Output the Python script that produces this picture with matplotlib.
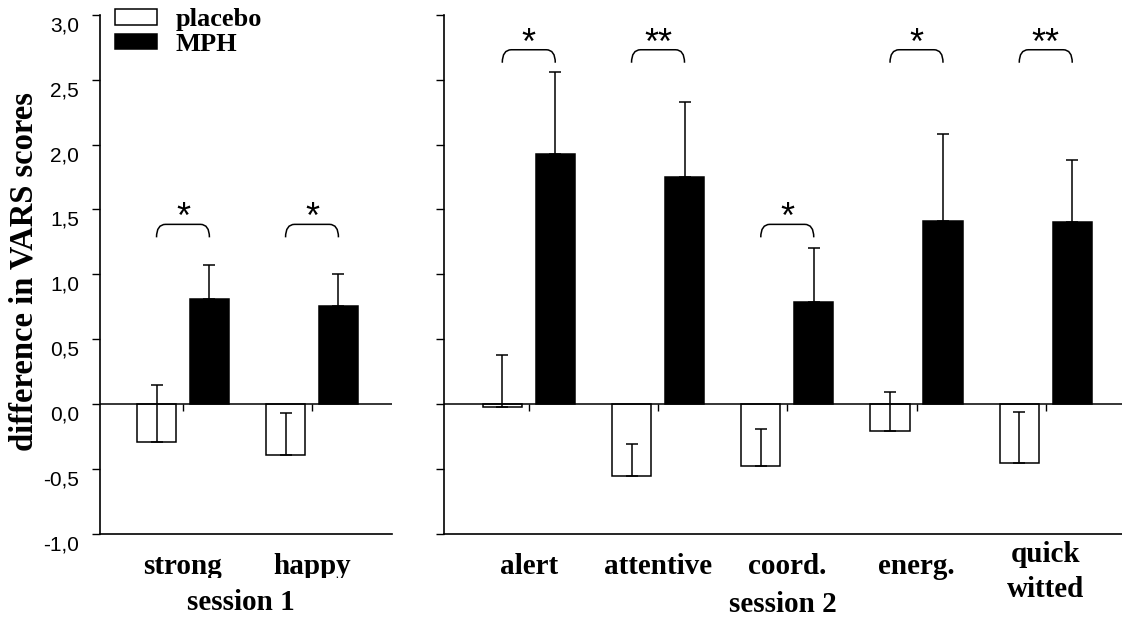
import matplotlib
matplotlib.use("Agg")
import matplotlib.pyplot as plt
import matplotlib.markers as mmarkers
from matplotlib.transforms import Bbox, TransformedBbox, ScaledTranslation, blended_transform_factory
from matplotlib.path import Path
from matplotlib.patches import PathPatch
import numpy as np

plt.rcParams['axes.unicode_minus'] = False

# ---------------- data ----------------
cats1 = ['strong', 'happy']
placebo1 = [-0.29, -0.39]
placebo1_err = [0.44, 0.32]
mph1 = [0.81, 0.76]
mph1_err = [0.26, 0.24]
sig1 = ['*', '*']
sig1_level = [1.385, 1.385]

cats2 = ['alert', 'attentive', 'coord.', 'energ.', 'quick\nwitted']
placebo2 = [-0.02, -0.55, -0.48, -0.21, -0.45]
placebo2_err = [0.40, 0.24, 0.29, 0.30, 0.39]
mph2 = [1.93, 1.75, 0.79, 1.41, 1.40]
mph2_err = [0.63, 0.58, 0.41, 0.67, 0.48]
sig2 = ['*', '**', '*', '*', '**']
sig2_level = [2.73, 2.73, 1.385, 2.73, 2.73]

sessions = ['session 1', 'session 2']
legend_labels = ['placebo', 'MPH']
yticks = [-1.0, -0.5, 0.0, 0.5, 1.0, 1.5, 2.0, 2.5, 3.0]

# ---------------- figure ----------------
W, H = 1122, 617
fig = plt.figure(figsize=(W / 100, H / 100), dpi=100)

def px_axes(x0, x1, ytop, ybot):
    return fig.add_axes([x0 / W, 1 - ybot / H, (x1 - x0) / W, (ybot - ytop) / H])

ax1 = px_axes(100, 392, 14.7, 534)
ax2 = px_axes(444, 1122, 14.7, 534)

serif = dict(family='Liberation Serif', weight='bold')
width = 0.302
off = 0.205
lw = 1.1
label_fs = 21


def bracket(ax, x0, x1, ytop, drop=0.1, dx=0.07):
    verts = [(x0, ytop - drop), (x0, ytop), (x0 + dx, ytop),
             (x1 - dx, ytop), (x1, ytop), (x1, ytop - drop)]
    codes = [Path.MOVETO, Path.CURVE3, Path.CURVE3,
             Path.LINETO, Path.CURVE3, Path.CURVE3]
    ax.add_patch(PathPatch(Path(verts, codes), fill=False, lw=1.1, color='black'))


def panel(ax, cats, pl, pl_err, mp, mp_err, sig, sig_lv, xlim, ytick_labels):
    x = np.arange(len(cats))
    b1 = ax.bar(x - off, pl, width, color='white', edgecolor='black', lw=lw, zorder=2)
    b2 = ax.bar(x + off, mp, width, color='black', edgecolor='black', lw=lw, zorder=2)
    z = np.zeros(len(cats))
    ax.errorbar(x - off, pl, yerr=[z, pl_err], fmt='none', ecolor='black',
                elinewidth=lw, capsize=4.3, capthick=lw, zorder=3)
    ax.errorbar(x + off, mp, yerr=[z, mp_err], fmt='none', ecolor='black',
                elinewidth=lw, capsize=4.3, capthick=lw, zorder=1)
    ax.axhline(0, color='black', lw=lw, zorder=4)
    ax.plot(x, z, ls='none', marker=mmarkers.TICKDOWN, ms=5, mew=1.0,
            color='black', zorder=4, clip_on=False)
    for xi, s, lv in zip(x, sig, sig_lv):
        bracket(ax, xi - off, xi + off, lv)
        ax.text(xi, lv - 0.03, s, ha='center', va='baseline',
                family='Liberation Sans', fontsize=26)
    ax.set_xlim(*xlim)
    ax.set_ylim(-1.0, 3.0)
    ax.set_yticks(yticks)
    ax.set_yticklabels([])
    if ytick_labels:
        tr = ax.get_yaxis_transform() + ScaledTranslation(-21 / 100, -11 / 100,
                                                          fig.dpi_scale_trans)
        for v in yticks:
            ax.text(0, v, f"{v:.1f}".replace('.', ','), transform=tr,
                    ha='right', va='center', family='Liberation Sans', fontsize=15)
    ax.set_xticks([])
    ax.tick_params(axis='y', direction='out', length=6, width=1.0)
    for sp in ['top', 'right']:
        ax.spines[sp].set_visible(False)
    for sp in ['left', 'bottom']:
        ax.spines[sp].set_linewidth(1.2)
    return b1, b2


h1, h2 = panel(ax1, cats1, placebo1, placebo1_err, mph1, mph1_err, sig1, sig1_level,
               (-0.643, 1.620), True)
panel(ax2, cats2, placebo2, placebo2_err, mph2, mph2_err, sig2, sig2_level,
      (-0.656, 4.59), False)

# category labels (clipped at bottom like the reference)
def cat_labels(ax, cats, clip_y):
    tr = blended_transform_factory(ax.transData, fig.transFigure)
    clip = TransformedBbox(Bbox.from_extents(0, clip_y, 1, 1), fig.transFigure)
    for i, c in enumerate(cats):
        if '\n' in c:
            y = 1 - 572 / H
        else:
            y = 1 - 567 / H
        t = fig.text(i, y, c, transform=tr, ha='center', va='center',
                     fontsize=label_fs, linespacing=1.4, **serif)
        t.set_clip_box(clip)
        t.set_clip_on(True)

cat_labels(ax1, cats1, 1 - 578 / H)
cat_labels(ax2, cats2, 1 - 604 / H)

fig.text(241 / W, 1 - 603 / H, sessions[0], ha='center', va='center', fontsize=label_fs, **serif)
fig.text(783 / W, 1 - 605 / H, sessions[1], ha='center', va='center', fontsize=label_fs, **serif)

fig.text(24 / W, 1 - 272 / H, 'difference in VARS scores', rotation=90,
         ha='center', va='center', fontsize=23.5, **serif)

ax1.legend([h1, h2], legend_labels, loc='upper left', bbox_to_anchor=(0.05, 1.012),
           frameon=False, prop=dict(family='Liberation Serif', weight='bold', size=19),
           handlelength=1.6, handleheight=0.55, handletextpad=0.7,
           labelspacing=0.05, borderpad=0, borderaxespad=0)

fig.savefig('out.png', dpi=100)
